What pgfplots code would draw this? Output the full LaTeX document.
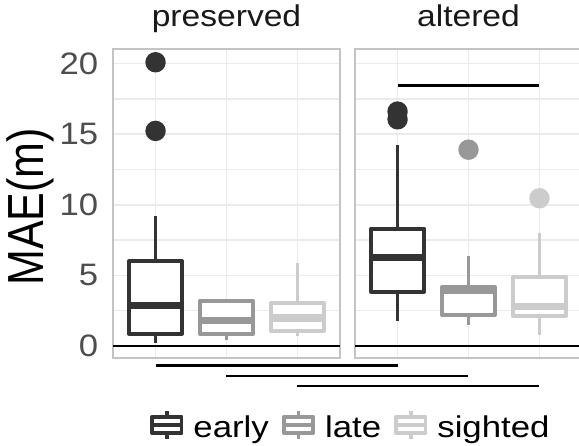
\documentclass[border=0pt]{standalone}
\usepackage{fontspec}
\setmainfont{Liberation Sans}
\usepackage{pgfplots}
\pgfplotsset{compat=1.18}
\usepgfplotslibrary{statistics}
\definecolor{cE}{HTML}{333333}
\definecolor{cL}{HTML}{989898}
\definecolor{cS}{HTML}{CCCCCC}
\definecolor{gridc}{HTML}{EBEBEB}
\definecolor{borderc}{HTML}{C4C4C4}
\definecolor{tickc}{HTML}{4D4D4D}
\newcommand{\bigfont}{\fontsize{30}{36}\selectfont}
\newcommand{\sx}[1]{\scalebox{1.12}[1]{#1}}
\newcommand{\lx}[1]{\scalebox{1.16}[1]{#1}}

\pgfplotsset{
  panel/.style={
    scale only axis, width=227pt, height=309pt,
    xmin=0.4, xmax=3.6, ymin=-0.85, ymax=21.03,
    xtick={1,2,3}, xticklabels={}, ytick={0,5,10,15,20},
    minor ytick={2.5,7.5,12.5,17.5},
    grid=both,
    major grid style={gridc, line width=1.6pt},
    minor grid style={gridc, line width=1.6pt},
    axis line style={borderc, line width=1.5pt},
    major tick length=0pt, minor tick length=0pt,
    tick style={draw=none},
    title style={at={(0.5,1)}, anchor=base, yshift=16pt, font=\bigfont, text=black!90},
    boxplot/draw direction=y,
    boxplot/box extend=0.75, boxplot/whisker extend=0,
    boxplot/every median/.style={line width=7.5pt, line cap=butt},
    clip=false,
    /pgf/number format/assume math mode=true,
  },
  keyimg/.style={legend image code/.code={
      \draw[##1, mark=none, fill=white, line width=3.8pt, line join=round] (0pt,-6.2pt) rectangle (29.4pt,10.2pt);
      \draw[##1, mark=none, line width=3.8pt] (0pt,2pt) -- (29.4pt,2pt);
      \draw[##1, mark=none, line width=3.8pt] (14.7pt,10.2pt) -- (14.7pt,16pt);
      \draw[##1, mark=none, line width=3.8pt] (14.7pt,-6.2pt) -- (14.7pt,-12pt);
  }},
  bx/.style={draw=#1, fill=white, line width=3.8pt, line join=round, solid,
    mark=*, mark size=8.3pt, mark options={draw=none, fill=#1}, keyimg},
}

\begin{document}
\begin{tikzpicture}[x=1pt,y=1pt]
\begin{axis}[panel, at={(113pt,88pt)}, anchor=south west,
  title={\sx{preserved}},
  yticklabel style={font=\fontsize{31}{36}\selectfont, text=tickc, anchor=east, inner sep=0pt, xshift=-14.5pt},
  yticklabel={\sx{\pgfmathprintnumber{\tick}}},
  ylabel={\scalebox{1}[1.18]{MAE(m)}},
  ylabel style={at={(axis description cs:-0.3656,0.4887)}, anchor=center, font=\fontsize{43}{50}\selectfont},
  legend columns=3,
  legend style={at={(1.048,-0.2168)}, anchor=center, draw=none, fill=none, font=\bigfont,
    /tikz/every odd column/.append style={column sep=8pt},
    /tikz/every even column/.append style={column sep=11pt}},
]
\addplot[black, line width=2pt, forget plot] coordinates {(0.4,0) (3.6,0)};
\addplot[bx=cE, boxplot prepared={lower whisker=0.24, lower quartile=0.87, median=2.85, upper quartile=6.0, upper whisker=9.2, draw position=1}]
  coordinates {(1,20.09) (1,15.23)};
\addlegendentry{\lx{early}}
\addplot[bx=cL, boxplot prepared={lower whisker=0.45, lower quartile=0.85, median=1.79, upper quartile=3.21, upper whisker=3.21, draw position=2}]
  coordinates {};
\addlegendentry{\lx{late}}
\addplot[bx=cS, boxplot prepared={lower whisker=0.73, lower quartile=1.06, median=1.98, upper quartile=3.05, upper whisker=5.86, draw position=3}]
  coordinates {};
\addlegendentry{\lx{sighted}}
\addplot[black, line width=2.6pt, forget plot] coordinates {(1,-1.40) (4.411,-1.40)};
\addplot[black, line width=2.6pt, forget plot] coordinates {(2,-2.12) (5.411,-2.12)};
\addplot[black, line width=2.6pt, forget plot] coordinates {(3,-2.83) (6.411,-2.83)};
\end{axis}
\begin{axis}[panel, at={(355pt,88pt)}, anchor=south west,
  title={\sx{altered}}, yticklabels={},
]
\addplot[black, line width=2pt, forget plot] coordinates {(0.4,0) (3.6,0)};
\addplot[bx=cE, boxplot prepared={lower whisker=1.79, lower quartile=3.85, median=6.26, upper quartile=8.31, upper whisker=14.23, draw position=1}]
  coordinates {(1,16.6) (1,16.05)};
\addplot[bx=cL, boxplot prepared={lower whisker=1.49, lower quartile=2.2, median=3.93, upper quartile=4.15, upper whisker=6.4, draw position=2}]
  coordinates {(2,13.9)};
\addplot[bx=cS, boxplot prepared={lower whisker=0.78, lower quartile=2.12, median=2.81, upper quartile=4.91, upper whisker=8.02, draw position=3}]
  coordinates {(3,10.46)};
\addplot[black, line width=2.6pt, forget plot] coordinates {(1,18.43) (3,18.43)};
\end{axis}
\pgfresetboundingbox
\path[use as bounding box] (0pt,0pt) rectangle (579pt,446pt);
\end{tikzpicture}
\end{document}
